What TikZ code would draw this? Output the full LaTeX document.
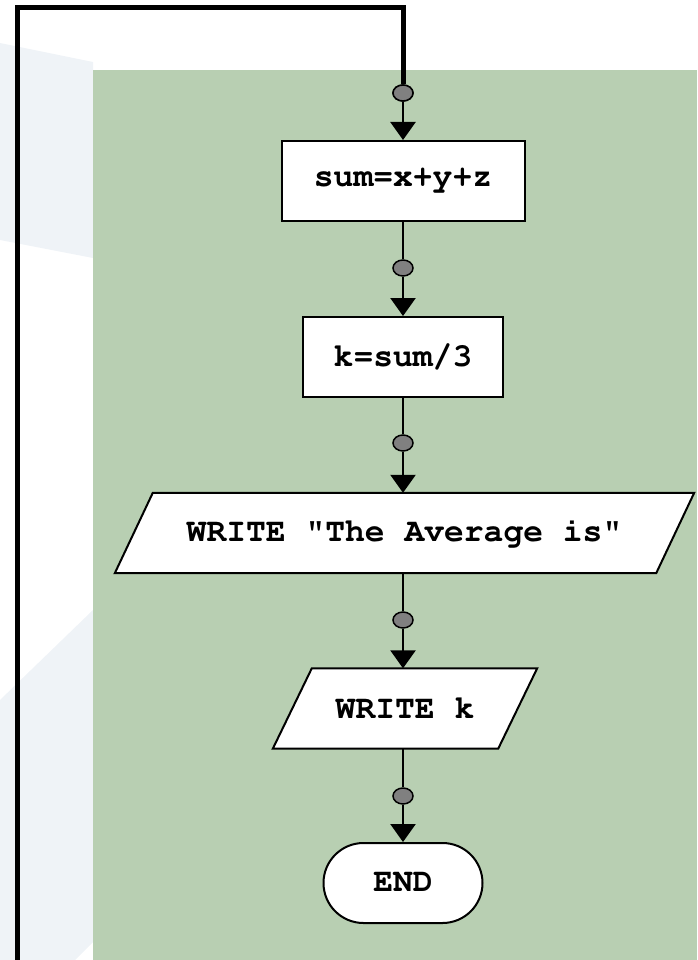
\documentclass[tikz,border=0pt]{standalone}
\usepackage[T1,TU]{fontenc}
\usepackage{fontspec}
\usetikzlibrary{arrows.meta,shapes.misc,shapes.geometric}
\definecolor{panel}{RGB}{184,207,178}
\definecolor{haze}{RGB}{239,243,247}
\definecolor{dotgray}{RGB}{128,128,128}
\newcommand{\codefont}{\fontencoding{T1}\fontfamily{pcr}\fontseries{b}\fontshape{n}\fontsize{33}{36}\selectfont}
\begin{document}
\begin{tikzpicture}[x=1pt,y=-1pt,
  label/.style={font=\codefont,inner sep=0pt},
  procbox/.style={label,draw=black,line width=2pt,fill=white,minimum height=80pt},
  iobox/.style={label,minimum height=80pt},
  termbox/.style={label,rounded rectangle,draw=black,line width=2pt,fill=white,minimum height=80pt},
  joint/.style={ellipse,draw=black,line width=1.5pt,fill=dotgray,minimum width=20pt,minimum height=16pt,inner sep=0pt},
  flow/.style={line width=2.5pt,draw=black},
  flowin/.style={flow,-{Triangle[width=25pt,length=18pt]}},
  loopline/.style={line width=5pt,draw=black,line join=miter}]
\useasboundingbox (0,0) rectangle (697,960);
% faint backdrop shapes
\fill[haze] (0,43) -- (93,62) -- (93,258) -- (0,240) -- cycle;
\fill[haze] (0,700) -- (93,610) -- (93,942) -- (75,960) -- (0,960) -- cycle;
% flowchart panel
\fill[panel] (93,70) rectangle (697,960);

% steps
\node[procbox,minimum width=243pt] (sum) at (403,181) {sum=x+y+z};
\node[procbox,minimum width=200pt] (avg) at (403,357) {k=sum/3};
\node[iobox,minimum width=579pt] (msg) at (404.5,533) {};
\draw[line width=2pt,fill=white] (msg.south west) -- ([xshift=38pt]msg.north west)
  -- (msg.north east) -- ([xshift=-38pt]msg.south east) -- cycle;
\node[label] at (msg.center) {WRITE "The Average is"};
\node[iobox,minimum width=264pt] (out) at (405,708.5) {};
\draw[line width=2pt,fill=white] (out.south west) -- ([xshift=39pt]out.north west)
  -- (out.north east) -- ([xshift=-39pt]out.south east) -- cycle;
\node[label] at (out.center) {WRITE k};
\node[termbox,minimum width=159pt] (end) at (403,883) {END};

% junction points
\node[joint] (j1) at (403,93) {};
\node[joint] (j2) at (403,268) {};
\node[joint] (j3) at (403,443) {};
\node[joint] (j4) at (403,620) {};
\node[joint] (j5) at (403,796) {};

% connectors
\draw[flowin] (j1) -- (sum.north);
\draw[flow] (sum.south) -- (j2);
\draw[flowin] (j2) -- (avg.north);
\draw[flow] (avg.south) -- (j3);
\draw[flowin] (j3) -- ([xshift=-1.5pt]msg.north);
\draw[flow] ([xshift=-1.5pt]msg.south) -- (j4);
\draw[flowin] (j4) -- ([xshift=-2pt]out.north);
\draw[flow] ([xshift=-2pt]out.south) -- (j5);
\draw[flowin] (j5) -- (end.north);

% loop back into the top
\coordinate (loopin) at (17,965);
\draw[loopline] (loopin) |- (403,8) -- (j1.north);
\node[joint] at (j1) {};
\end{tikzpicture}
\end{document}
